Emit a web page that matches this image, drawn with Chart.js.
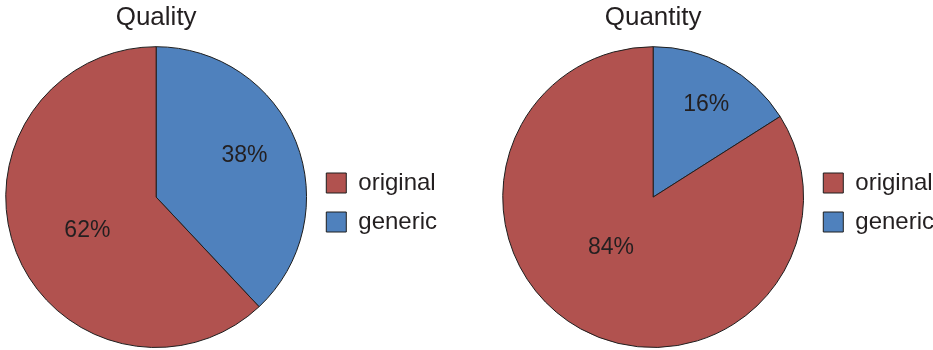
<!DOCTYPE html>
<html>
<head>
<meta charset="utf-8">
<title>Quality / Quantity</title>
<script src="https://cdn.jsdelivr.net/npm/chart.js@4.4.1/dist/chart.umd.min.js"></script>
<style>
  html, body { margin: 0; padding: 0; background: #fff; }
  #graficos { position: relative; width: 933px; height: 350px; overflow: hidden; }
  #graficos canvas { position: absolute; top: 0; }
  #chart-quality { left: 0; }
  #chart-quantity { left: 497px; }
</style>
</head>
<body>
<div id="graficos">
  <canvas id="chart-quality" width="447" height="350"></canvas>
  <canvas id="chart-quantity" width="447" height="350"></canvas>
</div>
<script>
// datos (porcentajes)
const categorias = ['generic', 'original'];
const valoresCalidad = [38, 62];
const valoresCantidad = [16, 84];
const colores = ['#4F81BD', '#B1524F'];

const FUENTE = '"Liberation Sans", Arial, Helvetica, sans-serif';
const COLOR_TEXTO = '#231F20';

// porcentajes dentro de cada porción
const etiquetasPorcentaje = {
  id: 'etiquetasPorcentaje',
  afterDatasetsDraw(chart, args, opts) {
    const ctx = chart.ctx;
    const meta = chart.getDatasetMeta(0);
    const valores = chart.data.datasets[0].data;
    ctx.save();
    ctx.font = '23px ' + FUENTE;
    ctx.fillStyle = COLOR_TEXTO;
    ctx.textAlign = 'center';
    ctx.textBaseline = 'middle';
    meta.data.forEach((arco, i) => {
      const p = arco.getProps(['x', 'y', 'startAngle', 'endAngle', 'outerRadius'], true);
      const pos = (opts.posiciones && opts.posiciones[i]) || { radio: 0.6, giro: 0 };
      const ang = (p.startAngle + p.endAngle) / 2 + pos.giro * Math.PI / 180;
      const r = p.outerRadius * pos.radio;
      ctx.fillText(valores[i] + '%', p.x + Math.cos(ang) * r, p.y + Math.sin(ang) * r);
    });
    ctx.restore();
  }
};

function crearTorta(id, titulo, valores, posiciones) {
  const ctx = document.getElementById(id);
  return new Chart(ctx, {
    type: 'pie',
    data: {
      labels: categorias,
      datasets: [{
        data: valores,
        backgroundColor: colores,
        borderColor: '#1E1E1E',
        borderWidth: 1
      }]
    },
    options: {
      responsive: false,
      animation: false,
      layout: { padding: { left: 1, right: 0, top: 0, bottom: 2 } },
      plugins: {
        title: {
          display: true,
          text: titulo,
          fullSize: false,
          color: COLOR_TEXTO,
          font: { family: FUENTE, size: 26, weight: 'normal' },
          padding: { top: 2, bottom: 13 }
        },
        legend: {
          position: 'right',
          fullSize: false,
          reverse: true,
          // título vacío: sólo baja un poco la leyenda
          title: { display: true, text: '', font: { size: 9 }, padding: 0 },
          labels: {
            boxWidth: 20,
            boxHeight: 20,
            padding: 15,
            color: COLOR_TEXTO,
            font: { family: FUENTE, size: 24 }
          }
        },
        tooltip: { enabled: false },
        etiquetasPorcentaje: { posiciones: posiciones }
      }
    },
    plugins: [etiquetasPorcentaje]
  });
}

crearTorta('chart-quality', 'Quality', valoresCalidad, [
  { radio: 0.65, giro: -3.8 },
  { radio: 0.51, giro: -4.7 }
]);
crearTorta('chart-quantity', 'Quantity', valoresCantidad, [
  { radio: 0.71, giro: 1 },
  { radio: 0.44, giro: 10.8 }
]);
</script>
</body>
</html>
